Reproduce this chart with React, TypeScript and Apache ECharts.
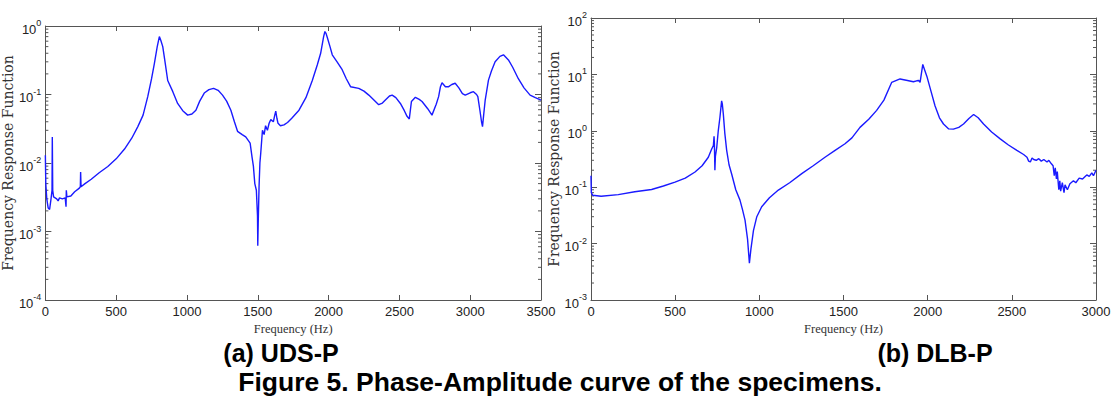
import React, { useEffect, useRef } from "react";
import * as echarts from "echarts";

// (a) UDS-P : [frequency Hz, FRF amplitude]
const udsData: [number, number][] = [
  [0, 0.013], [3, 0.005], [10, 0.003], [20, 0.0022], [30, 0.0021], [40, 0.003], [47, 0.004], [49, 0.024], [52, 0.004],
  [58, 0.0032], [80, 0.003], [90, 0.0028], [100, 0.0031], [120, 0.003], [140, 0.0031], [146, 0.0023], [148, 0.004],
  [152, 0.0032], [180, 0.0033], [207, 0.0038], [240, 0.0043], [247, 0.0045], [249, 0.0074], [252, 0.0045], [280, 0.005],
  [324, 0.0058], [380, 0.0072], [441, 0.0089], [500, 0.0115], [559, 0.016], [610, 0.023], [653, 0.034], [690, 0.05],
  [723, 0.093], [750, 0.17], [770, 0.285], [790, 0.5], [805, 0.7], [815, 0.62], [829, 0.5], [845, 0.3], [864, 0.16],
  [900, 0.11], [934, 0.074], [970, 0.058], [1005, 0.05], [1035, 0.052], [1063, 0.059], [1090, 0.08], [1122, 0.105],
  [1155, 0.118], [1188, 0.123], [1220, 0.115], [1251, 0.098], [1280, 0.08], [1310, 0.059], [1335, 0.04], [1357, 0.029],
  [1390, 0.026], [1415, 0.024], [1446, 0.0195], [1460, 0.012], [1469, 0.009], [1479, 0.005], [1490, 0.004],
  [1498, 0.0017], [1500, 0.00062], [1503, 0.0013], [1509, 0.0045], [1515, 0.01], [1521, 0.014], [1533, 0.03],
  [1545, 0.026], [1555, 0.035], [1568, 0.03], [1580, 0.038], [1592, 0.043], [1610, 0.04], [1620, 0.05], [1627, 0.057],
  [1635, 0.045], [1643, 0.038], [1660, 0.035], [1685, 0.036], [1710, 0.039], [1740, 0.045], [1791, 0.059], [1840, 0.09],
  [1885, 0.16], [1920, 0.27], [1944, 0.4], [1965, 0.7], [1974, 0.83], [1982, 0.78], [1991, 0.68], [2010, 0.5],
  [2026, 0.38], [2060, 0.3], [2096, 0.23], [2125, 0.17], [2155, 0.13], [2213, 0.123], [2250, 0.112], [2284, 0.098],
  [2320, 0.083], [2354, 0.071], [2380, 0.075], [2401, 0.083], [2430, 0.095], [2449, 0.098], [2475, 0.09], [2507, 0.074],
  [2535, 0.058], [2554, 0.048], [2570, 0.044], [2578, 0.06], [2585, 0.079], [2613, 0.091], [2640, 0.085], [2660, 0.079],
  [2700, 0.062], [2730, 0.05], [2760, 0.072], [2777, 0.093], [2790, 0.13], [2801, 0.148], [2825, 0.13], [2848, 0.13],
  [2870, 0.14], [2894, 0.146], [2920, 0.125], [2945, 0.103], [2965, 0.098], [3000, 0.106], [3023, 0.11], [3045, 0.1],
  [3054, 0.093], [3070, 0.056], [3080, 0.04], [3087, 0.034], [3095, 0.05], [3106, 0.083], [3129, 0.162], [3150, 0.22],
  [3176, 0.3], [3210, 0.36], [3235, 0.38], [3270, 0.32], [3300, 0.25], [3340, 0.17], [3380, 0.125], [3423, 0.098],
  [3460, 0.09], [3500, 0.083],
];

// (b) DLB-P : [frequency Hz, FRF amplitude]
const dlbData: [number, number][] = [
  [0, 0.16], [2, 0.08], [10, 0.072], [60, 0.069], [162, 0.074], [260, 0.083], [360, 0.091], [430, 0.105], [499, 0.123],
  [560, 0.145], [618, 0.186], [660, 0.24], [697, 0.34], [715, 0.46], [727, 0.55], [731, 0.8], [733, 0.6], [736, 0.2],
  [739, 0.35], [747, 0.51], [756, 1.0], [766, 1.74], [772, 2.6], [776, 3.4], [780, 3.0], [786, 2.0], [795, 0.9],
  [806, 0.45], [820, 0.25], [836, 0.17], [860, 0.09], [885, 0.059], [900, 0.04], [915, 0.026], [930, 0.012],
  [941, 0.0045], [950, 0.008], [965, 0.017], [985, 0.03], [1014, 0.045], [1060, 0.065], [1113, 0.089], [1180, 0.12],
  [1252, 0.174], [1320, 0.24], [1390, 0.34], [1450, 0.45], [1509, 0.59], [1550, 0.75], [1598, 1.15], [1650, 1.6],
  [1697, 2.3], [1740, 3.5], [1786, 7.2], [1836, 8.3], [1880, 7.8], [1915, 7.4], [1935, 7.7], [1947, 7.8], [1955, 7.2],
  [1962, 10], [1971, 15], [1980, 12.5], [1995, 9.3], [2020, 5], [2044, 2.75], [2070, 1.7], [2094, 1.32], [2125, 1.08],
  [2153, 1.07], [2185, 1.15], [2213, 1.32], [2245, 1.65], [2273, 1.95], [2300, 1.7], [2332, 1.32], [2380, 0.95],
  [2431, 0.72], [2480, 0.56], [2530, 0.45], [2570, 0.38], [2590, 0.34], [2600, 0.29], [2610, 0.28], [2620, 0.33],
  [2630, 0.31], [2645, 0.3], [2660, 0.32], [2675, 0.29], [2690, 0.31], [2709, 0.28], [2720, 0.3], [2735, 0.26],
  [2745, 0.24], [2752, 0.16], [2758, 0.22], [2765, 0.14], [2770, 0.19], [2779, 0.09], [2785, 0.13], [2790, 0.085],
  [2800, 0.12], [2810, 0.08], [2816, 0.11], [2830, 0.09], [2845, 0.115], [2866, 0.13], [2880, 0.12], [2900, 0.145],
  [2920, 0.14], [2945, 0.165], [2960, 0.155], [2975, 0.18], [2985, 0.16], [3000, 0.2],
];

const udsX = { min: 0, max: 3500, interval: 500 };
const dlbX = { min: 0, max: 3000, interval: 500 };
const udsY = { min: 1e-4, max: 1 };
const dlbY = { min: 1e-3, max: 100 };
const udsMinorDecades = [-4, -3, -2, -1];
const dlbMinorDecades = [-3, -2, -1, 0, 1];
const minorMultipliers = [2, 3, 4, 5, 6, 7, 8, 9];

const xAxisTitle = "Frequency (Hz)";
const yAxisTitle = "Frequency Response Function";
const captionA = "(a) UDS-P";
const captionB = "(b) DLB-P";
const figureCaption = "Figure 5. Phase-Amplitude curve of the specimens.";

const LINE = "#1a1aff";
const AXIS = "#555";
const TICKFONT = "'Liberation Sans Narrow', 'Arial Narrow', 'Liberation Sans', Arial, sans-serif";

function minorTickData(decades: number[]) {
  const out: [number, number][] = [];
  decades.forEach((d) => minorMultipliers.forEach((m) => out.push([0, m * Math.pow(10, d)])));
  return out;
}

function logLabel(v: number) {
  const e = Math.round(Math.log10(v));
  return `{b|10}{s|${e}}`;
}

const logRich = {
  b: { fontSize: 13, fontFamily: TICKFONT, color: "#222", padding: [6, 0, 0, 0] },
  s: { fontSize: 9, fontFamily: TICKFONT, color: "#222", padding: [0, 0, 6, 0] },
};

function xAxes(gridIndex: number, cfg: { min: number; max: number; interval: number }) {
  return [
    {
      type: "value",
      gridIndex,
      position: "bottom",
      ...cfg,
      splitLine: { show: false },
      axisLine: { show: true, onZero: false, lineStyle: { color: AXIS, width: 1 } },
      axisTick: { show: true, inside: true, length: 5, lineStyle: { color: AXIS } },
      axisLabel: {
        show: true,
        fontSize: 13,
        fontFamily: TICKFONT,
        color: "#222",
        margin: 5,
        formatter: (v: number) => String(v),
      },
      name: xAxisTitle,
      nameLocation: "middle",
      nameGap: 21,
      nameTextStyle: { fontFamily: "'Liberation Serif', 'Times New Roman', serif", fontSize: 12.5, color: "#333" },
    },
    {
      type: "value",
      gridIndex,
      position: "top",
      ...cfg,
      splitLine: { show: false },
      axisLine: { show: true, onZero: false, lineStyle: { color: AXIS, width: 1 } },
      axisTick: { show: true, inside: true, length: 5, lineStyle: { color: AXIS } },
      axisLabel: { show: false },
    },
  ];
}

function yAxes(gridIndex: number, cfg: { min: number; max: number }) {
  return [
    {
      type: "log",
      logBase: 10,
      gridIndex,
      position: "left",
      ...cfg,
      interval: 1,
      splitLine: { show: false },
      axisLine: { show: true, onZero: false, lineStyle: { color: AXIS, width: 1 } },
      axisTick: { show: true, inside: true, length: 6, lineStyle: { color: AXIS } },
      axisLabel: { show: true, formatter: logLabel, rich: logRich, margin: 4 },
      name: yAxisTitle,
      nameLocation: "middle",
      nameGap: 18,
      nameTextStyle: { fontFamily: "'DejaVu Serif', serif", fontSize: 14, color: "#333" },
    },
    {
      type: "log",
      logBase: 10,
      gridIndex,
      position: "right",
      ...cfg,
      interval: 1,
      splitLine: { show: false },
      axisLine: { show: true, onZero: false, lineStyle: { color: AXIS, width: 1 } },
      axisTick: { show: true, inside: true, length: 6, lineStyle: { color: AXIS } },
      axisLabel: { show: false },
    },
  ];
}

function minorTickSeries(xAxisIndex: number, yAxisIndex: number, decades: number[]) {
  return {
    type: "custom",
    xAxisIndex,
    yAxisIndex,
    silent: true,
    clip: false,
    data: minorTickData(decades),
    renderItem: (params: any, api: any) => {
      const p = api.coord([api.value(0), api.value(1)]);
      const cs = params.coordSys;
      const len = 3;
      const style = { stroke: AXIS, lineWidth: 1 };
      return {
        type: "group",
        children: [
          { type: "line", shape: { x1: cs.x, y1: p[1], x2: cs.x + len, y2: p[1] }, style },
          { type: "line", shape: { x1: cs.x + cs.width - len, y1: p[1], x2: cs.x + cs.width, y2: p[1] }, style },
        ],
      };
    },
  };
}

export default function App() {
  const ref = useRef<HTMLDivElement>(null);
  useEffect(() => {
    if (!ref.current) return;
    const chart = echarts.init(ref.current, undefined, { renderer: "svg" });
    const captionStyle = {
      fontFamily: "'Liberation Sans', Arial, sans-serif",
      fontWeight: "bold",
      fill: "#000",
      textAlign: "center",
      textVerticalAlign: "middle",
    };
    chart.setOption({
      animation: false,
      backgroundColor: "#fff",
      grid: [
        { left: 44, top: 26, width: 497, height: 274, containLabel: false },
        { left: 591, top: 18, width: 505, height: 282, containLabel: false },
      ],
      xAxis: [...xAxes(0, udsX), ...xAxes(1, dlbX)],
      yAxis: [...yAxes(0, udsY), ...yAxes(1, dlbY)],
      series: [
        {
          type: "line",
          xAxisIndex: 0,
          yAxisIndex: 0,
          data: udsData,
          showSymbol: false,
          lineStyle: { color: LINE, width: 1.4 },
          itemStyle: { color: LINE },
        },
        minorTickSeries(0, 0, udsMinorDecades),
        {
          type: "line",
          xAxisIndex: 2,
          yAxisIndex: 2,
          data: dlbData,
          showSymbol: false,
          lineStyle: { color: LINE, width: 1.4 },
          itemStyle: { color: LINE },
        },
        minorTickSeries(2, 2, dlbMinorDecades),
      ],
      graphic: [
        { type: "text", x: 281, y: 353, style: { ...captionStyle, fontSize: 25, text: captionA } },
        { type: "text", x: 935, y: 353, style: { ...captionStyle, fontSize: 25, text: captionB } },
        { type: "text", x: 560, y: 382, style: { ...captionStyle, fontSize: 26.5, text: figureCaption } },
      ],
    });
    return () => chart.dispose();
  }, []);
  return (
    <div
      ref={ref}
      style={{ position: "fixed", left: 0, top: 0, width: 1116, height: 403, background: "#fff" }}
    />
  );
}
